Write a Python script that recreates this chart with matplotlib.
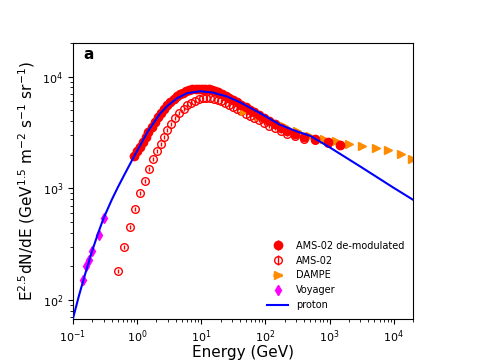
import numpy as np
import matplotlib
matplotlib.use("Agg")
import matplotlib.pyplot as plt

# AMS-02 measured (open circles)
ams_e = [0.50, 0.616, 0.767, 0.944, 1.10, 1.32, 1.52, 1.74, 2.07, 2.34, 2.64, 2.97, 3.4, 3.9,
         4.5, 5.3, 6.1, 7.0, 8.0, 9.2, 10.5, 12.0, 13.8, 15.8, 18.0, 20.5, 23.5, 27.0,
         31.0, 36.0, 42.0, 49.0, 57.0, 67.0, 80.0, 95.0, 115.0, 140.0, 175.0, 220.0,
         290.0, 400.0, 600.0, 960.0, 1450.0]
ams_f = [181, 297, 453, 660, 903, 1167, 1500, 1820, 2170, 2510, 2890, 3330, 3770, 4240,
         4700, 5150, 5550, 5850, 6100, 6280, 6380, 6430, 6420, 6350, 6220, 6050, 5850, 5620,
         5400, 5150, 4900, 4650, 4450, 4250, 4050, 3850, 3650, 3450, 3250, 3080,
         2920, 2780, 2700, 2560, 2420]

# AMS-02 de-modulated (filled circles)
demod_e = [0.90, 1.0, 1.1, 1.22, 1.36, 1.5, 1.68, 1.88, 2.1, 2.35, 2.62, 2.93, 3.3, 3.7,
           4.15, 4.65, 5.2, 5.8, 6.5, 7.3, 8.2, 9.2, 10.3, 11.6, 13.0, 14.6, 16.4, 18.5,
           21.0, 24.0, 27.5, 31.5, 36.5, 42.0, 49.0, 57.0, 67.0, 80.0, 95.0, 115.0,
           140.0, 175.0, 220.0, 290.0, 400.0, 600.0, 960.0, 1450.0]
demod_f = [1950, 2150, 2350, 2600, 2900, 3200, 3550, 3950, 4350, 4750, 5150, 5550, 5950, 6300,
           6650, 6950, 7200, 7400, 7550, 7680, 7760, 7800, 7800, 7760, 7680, 7560, 7400, 7220,
           7000, 6750, 6480, 6200, 5900, 5620, 5330, 5050, 4780, 4500, 4250, 4000,
           3750, 3500, 3280, 3080, 2900, 2750, 2580, 2420]

# DAMPE
dampe_e = [46, 79, 126, 193, 310, 500, 810, 1240, 2000, 3230, 5200, 8000, 12900, 19500]
dampe_f = [4900, 4420, 4000, 3600, 3250, 2960, 2750, 2640, 2470, 2400, 2300, 2190, 2050, 1840]

# Voyager
voy_e = [0.144, 0.162, 0.179, 0.202, 0.251, 0.309]
voy_f = [150, 201, 230, 276, 382, 543]

# proton model
prot_e = [0.1, 0.125, 0.156, 0.2, 0.25, 0.3, 0.4, 0.5, 0.668, 0.92, 1.5, 2.3, 3.0, 4.2,
          6.0, 9.6, 15, 25, 40, 83, 170, 300, 500, 1000, 3000, 10000, 20000]
prot_f = [68, 111, 173, 277, 405, 539, 783, 1019, 1403, 1982, 3290, 4700, 5500, 6400,
          7100, 7400, 7200, 6650, 5900, 4700, 3700, 3250, 2950, 2330, 1570, 1010, 790]

fig = plt.figure(figsize=(4.86, 3.64), dpi=100)
ax = fig.add_axes([0.15, 0.124, 0.70, 0.758])

ams_f = np.array(ams_f)
demod_f = np.array(demod_f)
h1 = ax.errorbar(demod_e, demod_f, yerr=0.03 * demod_f, fmt='o', color='red', ms=6,
                 elinewidth=1, label='AMS-02 de-modulated', zorder=3)
h2 = ax.errorbar(ams_e, ams_f, yerr=0.04 * ams_f, fmt='o', mfc='none', mec='red', color='red',
                 ms=5.5, mew=1, elinewidth=1, label='AMS-02', zorder=2)
h3 = ax.errorbar(dampe_e, dampe_f, xerr=[0.12 * np.array(dampe_e), 0.0 * np.array(dampe_e)],
                 fmt='>', color='darkorange', ms=6, elinewidth=2.5, label='DAMPE', zorder=2)
h4 = ax.errorbar(voy_e, voy_f, yerr=0.05 * np.array(voy_f), fmt='d', color='magenta', ms=5,
                 elinewidth=1, label='Voyager', zorder=2)
h5, = ax.plot(prot_e, prot_f, color='blue', lw=1.5, label='proton', zorder=4)

ax.set_xscale('log')
ax.set_yscale('log')
ax.set_xlim(0.1, 2e4)
ax.set_ylim(68, 2e4)
ax.tick_params(labelsize=8)
ax.set_xlabel('Energy (GeV)', fontsize=11, labelpad=0)
ax.set_ylabel(r'E$^{2.5}$dN/dE (GeV$^{1.5}$ m$^{-2}$ s$^{-1}$ sr$^{-1}$)', fontsize=11)
ax.text(0.03, 0.985, 'a', transform=ax.transAxes, fontsize=11, fontweight='bold',
        va='top', ha='left')
ax.legend(handles=[h1, h2, h3, h4, h5], loc='lower right', frameon=False, fontsize=7,
          handlelength=2.2)

fig.savefig('out.png', dpi=100)
